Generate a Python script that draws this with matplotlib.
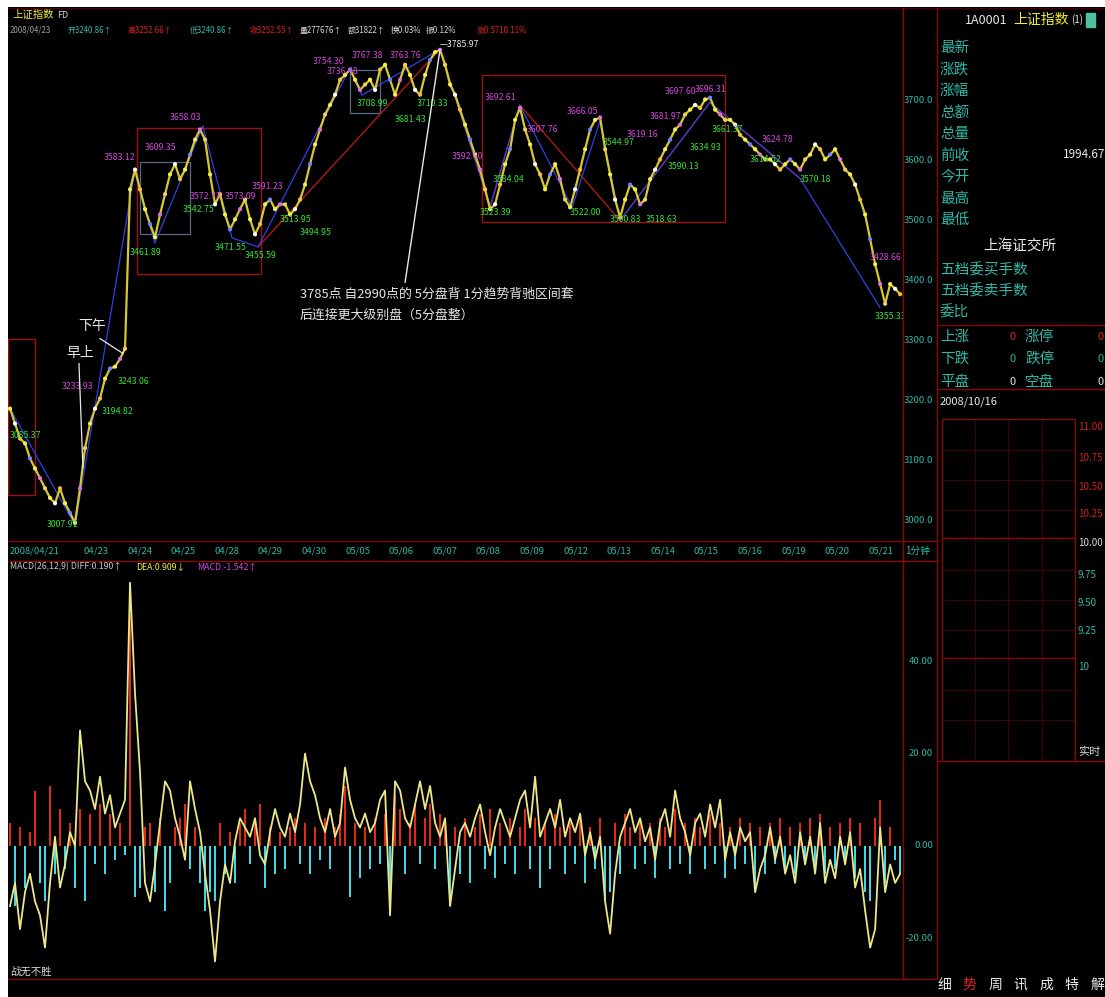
import numpy as np
import matplotlib
matplotlib.use('Agg')
import matplotlib.pyplot as plt
from matplotlib.patches import Rectangle

plt.rcParams['font.family'] = ['Noto Sans CJK SC', 'DejaVu Sans']

# ------------------------------------------------------------------ data
TRADE_DATES = ['2008/04/21', '04/22', '04/23', '04/24', '04/25', '04/28', '04/29',
               '04/30', '05/05', '05/06', '05/07', '05/08', '05/09', '05/12', '05/13',
               '05/14', '05/15', '05/16', '05/19', '05/20', '05/21']
HIDDEN_DATE = '04/22'

SAMPLE_START = 0.028   # trading-day position of first reading
SAMPLE_STEP = 0.1147   # trading days between readings

price = [3186, 3161, 3136, 3128, 3103, 3086, 3070, 3053, 3037, 3028,
         3053, 3028, 3012, 2995, 3053, 3120, 3161, 3186, 3203, 3236,
         3253, 3256, 3269, 3286, 3552, 3585, 3552, 3519, 3494, 3472,
         3510, 3544, 3577, 3594, 3569, 3585, 3610, 3635, 3652, 3635,
         3577, 3527, 3544, 3510, 3485, 3502, 3519, 3535, 3502, 3477,
         3494, 3527, 3535, 3519, 3527, 3527, 3510, 3519, 3535, 3560,
         3594, 3627, 3652, 3677, 3693, 3710, 3735, 3743, 3752, 3735,
         3718, 3727, 3735, 3718, 3752, 3760, 3735, 3710, 3735, 3760,
         3743, 3718, 3710, 3743, 3768, 3781, 3785, 3760, 3727, 3710,
         3685, 3660, 3635, 3610, 3585, 3552, 3519, 3527, 3560, 3594,
         3619, 3668, 3688, 3652, 3627, 3594, 3577, 3552, 3577, 3594,
         3569, 3535, 3522, 3552, 3585, 3619, 3652, 3668, 3672, 3619,
         3577, 3535, 3505, 3535, 3560, 3552, 3527, 3535, 3569, 3585,
         3602, 3619, 3635, 3652, 3660, 3677, 3685, 3693, 3688, 3702,
         3705, 3685, 3677, 3668, 3668, 3660, 3643, 3635, 3627, 3619,
         3610, 3602, 3602, 3594, 3585, 3594, 3602, 3594, 3585, 3602,
         3610, 3627, 3619, 3602, 3610, 3619, 3602, 3585, 3577, 3560,
         3535, 3510, 3469, 3427, 3394, 3361, 3394, 3386, 3377]

macd_hist = [5, -13, 4, -9, 3, 12, -8, -12, 13, -6,
             8, -5, 5, -9, 8, -12, 7, -4, 9, -6,
             7, -3, 5, -2, 50, -11, -9, 4, 5, -10,
             6, -14, -8, 4, 6, 9, -5, 4, -8, -14,
             -10, -12, 5, -6, 3, -8, 5, 8, -4, 6,
             9, -9, 4, -6, 3, -5, 4, 6, -4, 5,
             -6, 4, -3, 6, -5, 4, 7, 13, -11, 5,
             -7, 4, -5, 6, -4, 7, -15, 11, 8, -6,
             5, 9, -4, 6, 9, -5, 7, 5, -13, 4,
             -6, 6, -8, 4, 7, -5, 8, -7, 5, -4,
             6, -6, 4, 8, -5, 6, -9, 5, -5, 7,
             4, -6, 5, -4, 6, -8, 4, -5, 6, -12,
             -10, 5, -6, 7, 4, -5, 6, -4, 5, -7,
             6, 4, -5, 8, -4, 5, -6, 6, 4, -5,
             7, -4, 5, -7, 4, -5, 6, -4, 5, -9,
             4, -6, 5, -4, 6, -5, 4, -6, 5, -4,
             6, -5, 7, -6, 4, -5, 5, -4, 6, -7,
             5, -10, -12, 6, 10, -8, 4, -3, -6]

diff_line = [-13, -8, -18, -10, -6, -12, -15, -22, -8, 2,
             -9, -4, 3, 0, 25, 14, 12, 8, 15, 7,
             11, 4, 7, 10, 57, 33, 16, -8, -12, -4,
             5, 14, 12, 6, 2, -3, 14, 8, 3, -6,
             -14, -25, -12, -4, -8, 1, 6, 4, 2, 6,
             -2, -4, 3, 8, 4, 2, 7, 3, 9, 20,
             14, 11, 6, 3, 8, 2, 5, 17, 10, 6,
             4, 7, 3, 5, 10, 12, -15, 14, 12, 6,
             4, 9, 14, 8, 13, 5, 2, 6, -13, -5,
             3, 5, 2, 6, 9, 3, -2, 4, 8, 5,
             2, 6, 10, 12, 4, 15, 2, 5, 8, 4,
             10, 2, 6, 3, 7, -2, 3, -3, 2, -12,
             -19, -6, 2, 5, 8, 3, 6, 1, 4, -3,
             5, 8, 2, 12, 6, 3, -2, 5, 7, 2,
             9, 4, 10, -3, 3, -2, 4, 1, 3, -10,
             -5, -2, 4, -3, 2, -6, -2, -8, 3, -4,
             2, -6, 5, -8, -3, -7, 2, -4, 3, -9,
             -5, -14, -22, -18, 4, -10, -4, -8, -6]

# swing-high labels (magenta): day position, price position, value text
high_day = [1.22, 2.18, 3.12, 3.70, 4.16, 4.95, 5.58, 6.98, 7.30, 7.87, 8.74,
            10.92, 10.16, 11.88, 12.80, 14.18, 14.70, 15.05, 15.74, 17.27, 19.75]
high_pos = [3223, 3605, 3622, 3672, 3540, 3540, 3557, 3765, 3748, 3776, 3776,
            3705, 3607, 3652, 3682, 3643, 3673, 3715, 3718, 3635, 3439]
high_txt = ['3233.93', '3583.12', '3609.35', '3658.03', '3572.73', '3573.09', '3591.23',
            '3754.30', '3736.48', '3767.38', '3763.76', '3692.61', '3592.60', '3607.76',
            '3666.05', '3619.16', '3681.97', '3697.60', '3696.31', '3624.78', '3428.66']

# swing-low labels (green)
low_day = [0.03, 0.88, 2.50, 2.14, 2.78, 4.00, 4.73, 5.42, 6.22, 6.68, 7.99, 8.86,
           9.36, 10.81, 11.11, 12.87, 13.79, 14.60, 13.63, 15.12, 15.62, 16.13,
           17.00, 18.15, 19.87]
low_pos = [3141, 2992, 3231, 3181, 3446, 3518, 3455, 3442, 3502, 3480, 3695, 3668,
           3695, 3514, 3569, 3514, 3502, 3502, 3630, 3590, 3622, 3652, 3602, 3569, 3339]
low_txt = ['3085.37', '3007.91', '3243.06', '3194.82', '3461.89', '3542.75', '3471.55',
           '3455.59', '3513.95', '3494.95', '3708.99', '3681.43', '3710.33', '3523.39',
           '3584.04', '3522.00', '3500.83', '3518.63', '3544.97', '3590.13', '3634.93',
           '3661.37', '3614.52', '3570.18', '3355.33']

# pivots ("笔" blue, "线段" red)
bi_day = [0.03, 1.52, 2.89, 3.35, 4.45, 5.12, 5.72, 7.82, 8.10, 9.89, 11.04, 11.72,
          12.92, 13.56, 14.02, 16.08, 18.15, 19.98]
bi_price = [3186, 2991, 3583, 3462, 3658, 3471, 3456, 3754, 3709, 3786, 3523, 3693,
            3522, 3666, 3500, 3697, 3570, 3355]
seg_day = [5.72, 9.89, 11.04, 11.72, 14.02, 16.08, 18.15]
seg_price = [3456, 3786, 3523, 3693, 3500, 3697, 3570]

# pivot zones (中枢): day0, day1, low, high
zone_d0 = [-0.02, 2.94, 10.85]
zone_d1 = [0.60, 5.79, 16.43]
zone_lo = [3041, 3411, 3497]
zone_hi = [3303, 3655, 3743]
sub_d0 = [3.01, 7.82]
sub_d1 = [4.16, 8.51]
sub_lo = [3477, 3680]
sub_hi = [3597, 3752]

price_ticks = [3000, 3100, 3200, 3300, 3400, 3500, 3600, 3700]
macd_ticks = [40, 20, 0, -20]

# ------------------------------------------------------------------ style
W, H = 1105, 997
CYAN_T = '#2fb8a6'
MAG = '#d447dc'
GRN = '#36e036'
YEL = '#f2ec3c'
FRAME = '#8c0606'
DIM = '#3a0404'


def frect(x0, y0, x1, y1):
    return [x0 / W, 1 - y1 / H, (x1 - x0) / W, (y1 - y0) / H]


fig = plt.figure(figsize=(W / 100, H / 100), dpi=100, facecolor='white')

# background / frame layer in pixel coordinates
bg = fig.add_axes(frect(8, 7, W, H))
bg.set_facecolor('black')
bg.set_xlim(8, W)
bg.set_ylim(H, 7)
bg.set_xticks([])
bg.set_yticks([])
for s in bg.spines.values():
    s.set_visible(False)


def hline(y, x0, x1, c=FRAME, lw=1.0):
    bg.plot([x0, x1], [y, y], color=c, lw=lw, solid_capstyle='butt')


def vline(x, y0, y1, c=FRAME, lw=1.0):
    bg.plot([x, x], [y0, y1], color=c, lw=lw, solid_capstyle='butt')


hline(8, 8, W, c='#4a0000')
vline(903, 7, 979)
vline(937, 7, 979)
hline(541, 8, 937)
hline(561, 8, 937)
hline(979, 8, 937)
# right info panel
hline(325, 937, W)
hline(389, 937, W)
for gx in [975, 1008, 1042]:
    vline(gx, 419, 761, c=DIM, lw=0.8)
for gy in [450, 480, 510, 570, 600, 630, 690, 720]:
    hline(gy, 942, 1075, c=DIM, lw=0.8)
hline(419, 942, 1075)
hline(538, 942, 1075)
hline(658, 942, 1075)
hline(761, 937, W)
vline(942, 419, 761)
vline(1075, 419, 761)

# header text, price panel
bg.text(12, 15, '上证指数', color=YEL, fontsize=7.5, va='center', ha='left')
bg.text(57, 15, 'FD', color='#d0d0d0', fontsize=6.5, va='center', ha='left')
hdr = [(10, '2008/04/23', '#a0a0a0'), (68, '开3240.86↑', CYAN_T), (128, '高3252.66↑', '#e02020'),
       (190, '低3240.86↑', CYAN_T), (250, '收3252.55↑', '#e02020'), (300, '量277676↑', '#d8d8d8'),
       (348, '额31822↑', '#d8d8d8'), (391, '换0.03%', '#d8d8d8'), (426, '振0.12%', '#d8d8d8'),
       (477, '涨0.5710.11%', '#e02020')]
for hx, ht, hc in hdr:
    bg.text(hx, 30, ht, color=hc, fontsize=5.7, va='center', ha='left')

bg.text(905, 551, '1分钟', color=CYAN_T, fontsize=7, va='center', ha='left')

# MACD header
bg.text(10, 567, 'MACD(26,12,9) DIFF:0.190↑', color='#c8c8c8', fontsize=6.3, va='center', ha='left')
bg.text(136, 567, 'DEA:0.909↓', color=YEL, fontsize=6.3, va='center', ha='left')
bg.text(197, 567, 'MACD:-1.542↑', color=MAG, fontsize=6.3, va='center', ha='left')
bg.text(10, 972, '战无不胜', color='#d8d8d8', fontsize=7.5, va='center', ha='left')

# right info panel text
bg.text(965, 20, '1A0001', color='#e8e8e8', fontsize=9, va='center', ha='left')
bg.text(1013, 20, '上证指数', color=YEL, fontsize=10, va='center', ha='left')
bg.text(1071, 20, '(1)', color='#e8e8e8', fontsize=7, va='center', ha='left')
bg.add_patch(Rectangle((1086, 13), 9, 14, color='#4fc0a0'))
info_labels = ['最新', '涨跌', '涨幅', '总额', '总量', '前收', '今开', '最高', '最低']
for i, lab in enumerate(info_labels):
    bg.text(940, 48 + 21.5 * i, lab, color=CYAN_T, fontsize=10.5, va='center', ha='left')
bg.text(1105, 154, '1994.67', color='#e8e8e8', fontsize=8.5, va='center', ha='right')
bg.text(1020, 247, '上海证交所', color='#e8e8e8', fontsize=10.5, va='center', ha='center')
bg.text(940, 270, '五档委买手数', color=CYAN_T, fontsize=10.5, va='center', ha='left')
bg.text(940, 291, '五档委卖手数', color=CYAN_T, fontsize=10.5, va='center', ha='left')
bg.text(940, 312, '委比', color=CYAN_T, fontsize=10.5, va='center', ha='left')
stat_rows = [(337, '上涨', '#e02020', '涨停'), (359, '下跌', CYAN_T, '跌停'), (382, '平盘', '#e8e8e8', '空盘')]
for sy, s1, sc, s2 in stat_rows:
    bg.text(940, sy, s1, color=CYAN_T, fontsize=10.5, va='center', ha='left')
    bg.text(1013, sy, '0', color=sc, fontsize=8, va='center', ha='center')
    bg.text(1025, sy, s2, color=CYAN_T, fontsize=10.5, va='center', ha='left')
    bg.text(1101, sy, '0', color=sc, fontsize=8, va='center', ha='center')
bg.text(940, 402, '2008/10/16', color='#e8e8e8', fontsize=8, va='center', ha='left')
small_lbl = [(427, '11.00', '#d02020'), (458, '10.75', '#d02020'), (487, '10.50', '#d02020'),
             (514, '10.25', '#d02020'), (543, '10.00', '#d8d8d8'), (575, '9.75', CYAN_T),
             (603, '9.50', CYAN_T), (631, '9.25', CYAN_T), (667, '10', CYAN_T)]
for ly, lt, lc in small_lbl:
    bg.text(1078, ly, lt, color=lc, fontsize=7, va='center', ha='left')
bg.text(1078, 752, '实时', color='#d8d8d8', fontsize=8, va='center', ha='left')
tabs = ['细', '势', '周', '讯', '成', '特', '解']
for i, t in enumerate(tabs):
    bg.text(944 + 25.5 * i, 985, t, color='#e02020' if t == '势' else '#e8e8e8',
            fontsize=10, va='center', ha='center')

# ------------------------------------------------------------------ price panel
ax = fig.add_axes(frect(8, 36, 903, 541))
ax.set_facecolor('none')
ax.set_xlim(-0.018, 20.51)
ax.set_ylim(2965, 3808)
ax.set_xticks([])
ax.set_yticks([])
for s in ax.spines.values():
    s.set_visible(False)

px = SAMPLE_START + SAMPLE_STEP * np.arange(len(price))

for d0, d1, lo, hi in zip(zone_d0, zone_d1, zone_lo, zone_hi):
    ax.add_patch(Rectangle((d0, lo), d1 - d0, hi - lo, fill=False, ec='#a01010', lw=1.0, zorder=1))
for d0, d1, lo, hi in zip(sub_d0, sub_d1, sub_lo, sub_hi):
    ax.add_patch(Rectangle((d0, lo), d1 - d0, hi - lo, fill=False, ec='#5a6a80', lw=0.9, zorder=1))

ax.plot(seg_day, seg_price, color='#b01818', lw=1.0, zorder=2)
ax.plot(bi_day, bi_price, color='#3040e0', lw=0.9, zorder=2)
ax.plot(px, price, color='#d8c830', lw=1.6, zorder=3)
dot_colors = ['#f4ee50', '#ffffff', '#f0c040', '#f4ee50', '#7080ff', '#f4ee50', '#e070e0', '#f0d060']
cols = [dot_colors[i % len(dot_colors)] for i in range(len(price))]
ax.scatter(px, price, s=9, c=cols, zorder=4, linewidths=0)

for d, p, t in zip(high_day, high_pos, high_txt):
    ax.text(d, p, t, color=MAG, fontsize=6.3, ha='left', va='center', zorder=5, clip_on=True)
for d, p, t in zip(low_day, low_pos, low_txt):
    c = '#e8e8e8' if t == '2990.95' else GRN
    ax.text(d, p, t, color=c, fontsize=6.3, ha='left', va='center', zorder=5, clip_on=True)
ax.text(9.89, 3793, '—3785.97', color='#e8e8e8', fontsize=6.3, ha='left', va='center', zorder=5)

# annotations
ax.plot([9.09, 9.89], [3397, 3785], color='#e8e8e8', lw=1.0, zorder=5)
ax.text(6.68, 3377, '3785点 自2990点的 5分盘背 1分趋势背驰区间套', color='#e8e8e8',
        fontsize=9.3, ha='left', va='center', zorder=6)
ax.text(6.68, 3342, '后连接更大级别盘（5分盘整）', color='#e8e8e8',
        fontsize=9.3, ha='left', va='center', zorder=6)
ax.text(1.59, 3324, '下午', color='#e8e8e8', fontsize=10, ha='left', va='center', zorder=6)
ax.plot([2.09, 2.62], [3303, 3278], color='#e8e8e8', lw=0.9, zorder=6)
ax.text(1.33, 3278, '早上', color='#e8e8e8', fontsize=10, ha='left', va='center', zorder=6)
ax.plot([1.61, 1.70], [3261, 3087], color='#e8e8e8', lw=0.9, zorder=6)

# price axis labels
ylab_tr = ax.get_yaxis_transform()
for v in price_ticks:
    ax.text(1.0335, v, f'{v:.1f}', transform=ylab_tr, color=CYAN_T, fontsize=6.8,
            ha='right', va='center', clip_on=False)

# date labels
xlab_tr = ax.get_xaxis_transform()
for k, lab in enumerate(TRADE_DATES):
    if lab == HIDDEN_DATE:
        continue
    ax.text(k if k else 0.03, -0.0195, lab, transform=xlab_tr, color=CYAN_T, fontsize=6.8,
            ha='left' if k == 0 else 'center', va='center', clip_on=False)

# ------------------------------------------------------------------ MACD panel
mx = fig.add_axes(frect(8, 575, 903, 979))
mx.set_facecolor('none')
mx.set_xlim(-0.018, 20.51)
mx.set_ylim(-28.8, 58.66)
mx.set_xticks([])
mx.set_yticks([])
for s in mx.spines.values():
    s.set_visible(False)

hx_ = SAMPLE_START + SAMPLE_STEP * np.arange(len(macd_hist))
hv = np.array(macd_hist, dtype=float)
mx.bar(hx_, hv, width=0.06, color=np.where(hv >= 0, '#e02a12', '#3fd8e8'), zorder=2, linewidth=0)
dx_ = SAMPLE_START + SAMPLE_STEP * np.arange(len(diff_line))
mx.plot(dx_, diff_line, color='#ece88a', lw=1.3, zorder=3)

m_tr = mx.get_yaxis_transform()
for v in macd_ticks:
    mx.text(1.0335, v, f'{v:.2f}', transform=m_tr, color=CYAN_T, fontsize=6.8,
            ha='right', va='center', clip_on=False)

fig.savefig('out.png', dpi=100, facecolor='white')
